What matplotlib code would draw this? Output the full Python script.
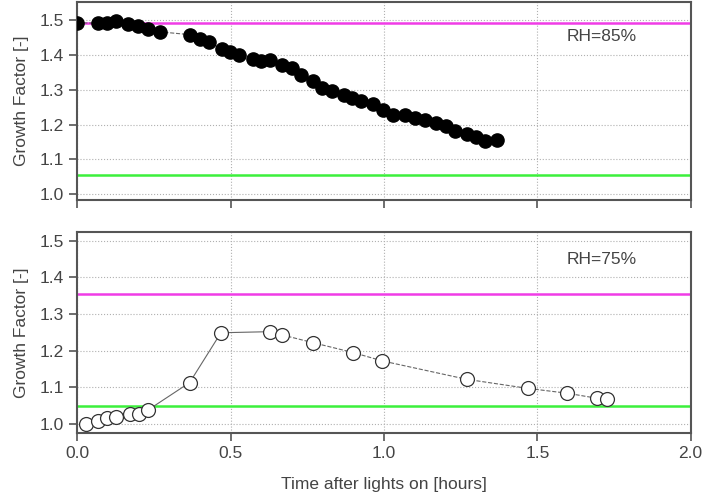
import numpy as np
import matplotlib
matplotlib.use("Agg")
from matplotlib import pyplot as plt

# RH = 85 % run (filled markers)
t85 = [0.0, 0.067, 0.097, 0.127, 0.165, 0.198, 0.23, 0.269, 0.366, 0.399, 0.43,
       0.47, 0.497, 0.527, 0.571, 0.6, 0.627, 0.668, 0.701, 0.728, 0.768, 0.799,
       0.831, 0.869, 0.897, 0.926, 0.964, 0.997, 1.028, 1.068, 1.1, 1.133, 1.171,
       1.201, 1.231, 1.269, 1.299, 1.329, 1.367]
gf85 = [1.493, 1.492, 1.492, 1.497, 1.49, 1.485, 1.475, 1.467, 1.459, 1.447, 1.437,
        1.418, 1.408, 1.399, 1.389, 1.382, 1.385, 1.373, 1.363, 1.344, 1.325, 1.306,
        1.296, 1.286, 1.277, 1.267, 1.258, 1.243, 1.229, 1.229, 1.22, 1.213, 1.205,
        1.196, 1.181, 1.172, 1.163, 1.153, 1.155]

# RH = 75 % run (open markers)
t75 = [0.027, 0.067, 0.097, 0.127, 0.17, 0.2, 0.23, 0.366, 0.468, 0.629, 0.668,
       0.768, 0.899, 0.995, 1.269, 1.47, 1.597, 1.696, 1.726]
gf75 = [1.0, 1.008, 1.017, 1.02, 1.026, 1.026, 1.038, 1.113, 1.249, 1.252, 1.243,
        1.222, 1.195, 1.172, 1.122, 1.097, 1.084, 1.07, 1.068]

# reference levels (upper, lower) per panel
ref85 = [1.492, 1.055]
ref75 = [1.355, 1.05]

magenta = '#f03ce6'
green = '#3cf03c'
txt = '#444444'
spine = '#555555'

plt.rcParams['font.family'] = ['Liberation Sans', 'DejaVu Sans']
fs = 12.5

fig = plt.figure(figsize=(7.04, 4.95), dpi=100)
ax1 = fig.add_axes([0.110, 0.596, 0.871, 0.400])
ax2 = fig.add_axes([0.110, 0.125, 0.871, 0.407])


def style(ax):
    ax.set_xlim(0, 2.0)
    ax.set_xticks([0.0, 0.5, 1.0, 1.5, 2.0])
    ax.set_yticks([1.0, 1.1, 1.2, 1.3, 1.4, 1.5])
    ax.grid(True, linestyle=':', color='#b0b0b0', linewidth=0.8)
    ax.set_axisbelow(True)
    for s in ax.spines.values():
        s.set_color(spine)
        s.set_linewidth(1.5)
    ax.tick_params(colors=spine, labelcolor=txt, width=1.2, length=6, labelsize=fs)
    ax.set_ylabel('Growth Factor [-]', color=txt, fontsize=fs, labelpad=8)


style(ax1)
ax1.set_ylim(0.983, 1.553)
ax1.tick_params(axis='x', labelbottom=False)
ax1.axhline(ref85[0], color=magenta, lw=1.8)
ax1.axhline(ref85[1], color=green, lw=1.8)
ax1.plot(t85, gf85, color='#666666', lw=0.8, ls='--', marker='o', ms=9.5,
         mfc='black', mec='black', zorder=3)
ax1.text(1.71, 1.454, 'RH=85%', color=txt, fontsize=fs, ha='center', va='center')

style(ax2)
ax2.set_ylim(0.975, 1.525)
ax2.axhline(ref75[0], color=magenta, lw=1.8)
ax2.axhline(ref75[1], color=green, lw=1.8)
ax2.plot(t75[:10], gf75[:10], color='#666666', lw=0.8, ls='-', zorder=2)
ax2.plot(t75[9:], gf75[9:], color='#666666', lw=0.8, ls='--', zorder=2)
ax2.plot(t75, gf75, ls='none', marker='o', ms=10, mfc='white', mec='#333333',
         mew=0.9, zorder=3)
ax2.text(1.71, 1.45, 'RH=75%', color=txt, fontsize=fs, ha='center', va='center')
ax2.set_xlabel('Time after lights on [hours]', color=txt, fontsize=fs, labelpad=11)

fig.savefig('out.png', dpi=100)
